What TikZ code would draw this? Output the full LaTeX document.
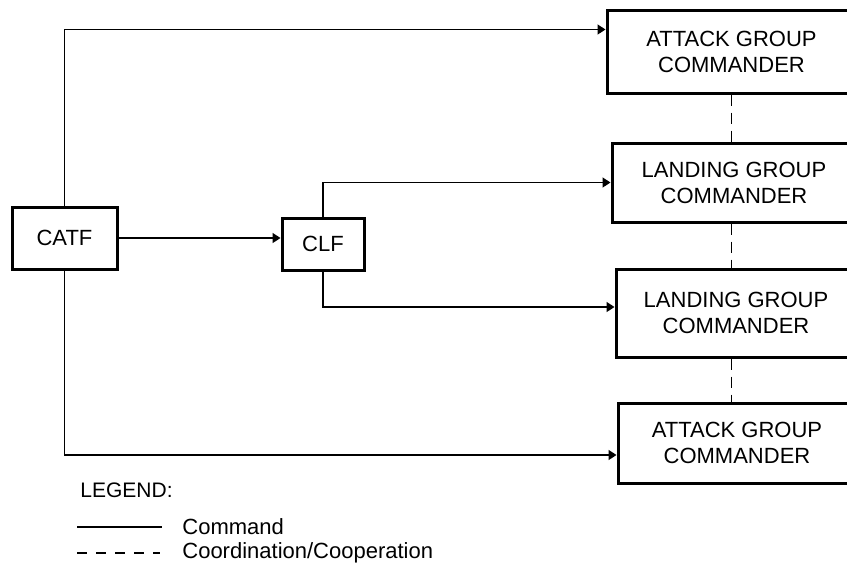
\documentclass[tikz,border=0pt]{standalone}
\usepackage{fontspec}
\setmainfont{Liberation Sans}
\usetikzlibrary{arrows.meta}
\usetikzlibrary{positioning}
\tikzset{
  box/.style = {
    draw, line width = 1.5pt, align = center, inner sep = 0pt,
    font = \fontsize{11}{13}\selectfont }
}

\begin{document}
\begin{tikzpicture}[x=0.5pt, y=-0.5pt,
cmd_style/.style={line width=0.75pt, -{Triangle[length=4pt,width=5pt]}},
coop_style/.style={line width=0.9pt, dash pattern=on 5.5pt off 3.5pt}]

\useasboundingbox (0,0) rectangle (847,564);
\clip (0,0) rectangle (847,564);

\node[box, minimum width=124.5pt, minimum height=41.5pt] (atk1) at (731.5,51.5) {ATTACK GROUP\\COMMANDER};
\node[box, minimum width=122pt, minimum height=39.5pt] (lgc1) at (734,182.5) {LANDING GROUP\\COMMANDER};
\node[box, minimum width=120pt, minimum height=44pt] (lgc2) at (736,313) {LANDING GROUP\\COMMANDER};
\node[box, minimum width=119pt, minimum height=40pt] (atk2) at (737,443) {ATTACK GROUP\\COMMANDER};

\node[box, minimum width=52.5pt, minimum height=31pt] (catf) at (64.5,238) {CATF};
\node[box, minimum width=41pt, minimum height=26pt] (clf) at (323,244) {CLF};

\draw[cmd_style] (catf.north) |- ([yshift=11pt]atk1.west);
\draw[cmd_style] (catf.south) |- ([yshift=-6pt]atk2.west);
\draw[cmd_style] (catf.east) -- (catf.east -| clf.west);
\draw[cmd_style] (clf.north) |- (lgc1.west);
\draw[cmd_style] (clf.south) |- ([yshift=3pt]lgc2.west);

\foreach \a/\b in {atk1/lgc1,lgc1/lgc2,lgc2/atk2}{
 \draw[coop_style] (atk1.south |- \a.south) -- (atk1.south |- \b.north);
}

\node[anchor=west, inner sep=0pt, font=\fontsize{10.5}{12}\selectfont] (legend) at (80,490) {LEGEND:};
\node[anchor=west, inner sep=0pt, font=\fontsize{11}{13}\selectfont] (cmdkey) at (182,527) {Command};
\node[anchor=west, inner sep=0pt, font=\fontsize{11}{13}\selectfont] (coopkey) at (182,553) {Coordination/Cooperation};
\coordinate (cmd0) at (77,527);
\coordinate (cmd1) at (162,527);
\coordinate (coop0) at (77,553);
\coordinate (coop1) at (160,553);
\draw[line width=0.75pt] (cmd0) -- (cmd1);
\draw[line width=0.75pt, dash pattern=on 5pt off 4.5pt] (coop0) -- (coop1);
\end{tikzpicture}
\end{document}
